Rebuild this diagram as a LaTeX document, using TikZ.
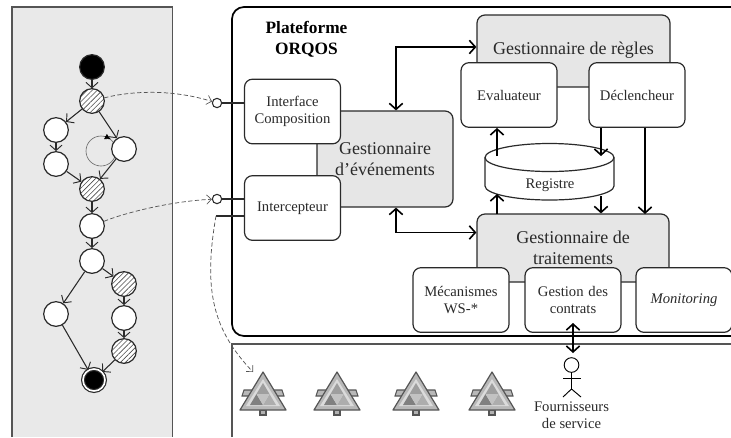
\documentclass[tikz,border=0pt]{standalone}
\usepackage{fontspec}
\setmainfont{Liberation Serif}
\usepackage{tikz}
\usetikzlibrary{arrows.meta}
\usetikzlibrary{patterns.meta}

\definecolor{panelgray}{HTML}{E9E9E9}
\definecolor{managergray}{HTML}{E6E6E6}
\definecolor{inkgray}{HTML}{2A2A2A}
\definecolor{wiregray}{HTML}{555555}

\tikzset{
    state/.style={circle,draw=inkgray,line width=.9pt,fill=white,minimum size=18.5pt,inner sep=0pt},
    hatched/.style={state,preaction={fill=white},pattern={Lines[angle=45,distance=2.7pt,line width=.45pt]},pattern color=black!70},
    flow/.style={draw=inkgray,line width=.8pt,-{Straight Barb[length=4pt,width=9pt,line width=.7pt]}},
    port/.style={circle,draw=inkgray,line width=.8pt,fill=white,minimum size=7pt,inner sep=0pt},
    weave/.style={draw=wiregray,line width=.55pt,dash pattern=on 3.2pt off 1.8pt,-{Straight Barb[length=3.5pt,width=7pt,line width=.5pt]}},
    component/.style={rectangle,rounded corners=6pt,draw=inkgray,line width=.9pt,fill=white,text=inkgray,
        font=\fontsize{11}{12.8}\selectfont,align=center,inner sep=0pt,text width=70pt},
    manager/.style={rectangle,rounded corners=6pt,draw=inkgray,line width=.9pt,fill=managergray,text=inkgray,
        font=\fontsize{13.5}{16}\selectfont,align=center,inner sep=0pt},
    link/.style={draw=black,line width=1.2pt,-{Straight Barb[length=4.5pt,width=10pt,line width=1.2pt]}},
    duplex/.style={draw=black,line width=1.2pt,{Straight Barb[length=4.5pt,width=10pt,line width=1.2pt]}-{Straight Barb[length=4.5pt,width=10pt,line width=1.2pt]}},
    service/.pic={
        \draw[wiregray,line width=.8pt,fill=black!30] (-3,17) rectangle (3,22);
        \draw[wiregray,line width=.8pt,fill=black!28] (-19,-3) -- (19,-3) -- (21,3) -- (-21,3) -- cycle;
        \draw[wiregray,line width=.9pt,line join=round,fill=black!28] (0,-21) -- (23,17) -- (-23,17) -- cycle;
        \fill[black!14] (0,-14) -- (17,13) -- (-17,13) -- cycle;
        \fill[black!38] (0,-10) -- (6.5,1) -- (-6.5,1) -- cycle;
        \fill[black!50] (-6.5,1) -- (0,12) -- (-13,12) -- cycle;
        \fill[black!32] (6.5,1) -- (13,12) -- (0,12) -- cycle;
        \fill[black!24] (-6.5,1) -- (6.5,1) -- (0,12) -- cycle;
    }
}

\begin{document}
\begin{tikzpicture}[x=.75pt,y=-.75pt]
        \useasboundingbox (0,0) rectangle (731,437);

        % composition panel
        \fill[panelgray] (12,7) rectangle (172.5,437);
        \draw[wiregray,line width=.9pt] (12,437) -- (12,7) -- (172.5,7) -- (172.5,437);

        \node (ring) [circle,draw=black!60,line width=.45pt,minimum size=22.5pt,inner sep=0pt] at (101,151) {};
        \draw[line width=.45pt,-{Latex[length=4.5pt,width=4.5pt]}] (ring.75) -- (ring.50);

        \begin{scope}[every node/.style={state}]
            \node (s0) [fill=black] at (92,67) {};
            \node (s1) [hatched] at (92,101) {};
            \node (s2) at (56,130) {};
            \node (s3) at (124,149) {};
            \node (s4) at (56,164) {};
            \node (s5) [hatched] at (92,189) {};
            \node (s6) at (92,226) {};
            \node (s7) at (92,261) {};
            \node (s8) [hatched] at (124,284) {};
            \node (s9) at (56,314) {};
            \node (s10) at (124,318) {};
            \node (s11) [hatched] at (124,351) {};
            \node (s12) [double=white,double distance=1.2pt,fill=black,minimum size=16.5pt] at (94,380) {};
        \end{scope}

        \begin{scope}[every path/.style={flow}]
            \path (s0) -- (s1);
            \path (s1) -- (s2);
            \path (s1) -- (s3);
            \path (s2) -- (s4);
            \path (s3) -- (s5);
            \path (s4) -- (s5);
            \path (s5) -- (s6);
            \path (s6) -- (s7);
            \path (s7) -- (s8);
            \path (s7) -- (s9);
            \path (s8) -- (s10);
            \path (s10) -- (s11);
            \path (s9) -- (s12);
            \path (s11) -- (s12);
        \end{scope}

        % platform and services frames
        \draw[black,line width=1.3pt,rounded corners=9pt] (732,7) -- (232,7) -- (232,336) -- (732,336);
        \draw[wiregray,line width=.9pt] (232,437) -- (232,344) -- (732,344);

        \node (title) [font=\fontsize{13}{15.8}\selectfont\bfseries,text=black,align=center] at (306.5,39.5) {Plateforme\\ORQOS};

        % managers sit under their components
        \node (events) [manager,minimum width=102pt,minimum height=72pt] at (385,159) {Gestionnaire\\d’événements};
        \node (rules) [manager,minimum width=144.75pt,minimum height=54pt] at (573.5,51) {};
        \node (rulestext) [font=\fontsize{13.5}{16}\selectfont,text=inkgray] at (573.5,50) {Gestionnaire de règles};
        \node (jobs) [manager,minimum width=144pt,minimum height=51pt] at (573,248) {Gestionnaire de\\traitements};

        \begin{scope}[every node/.style={component,minimum width=72pt,minimum height=48.5pt}]
            \node (compo) at (292.5,111.5) {Interface\\Composition};
            \node (inter) at (292.5,208) {Intercepteur};
            \node (eval) at (509,95) {Evaluateur};
            \node (trigger) at (637,95) {Déclencheur};
            \node (mech) at (461,300) {Mécanismes\\WS-*};
            \node (contracts) at (573,300) {Gestion des\\contrats};
            \node (monitor) at (684,300) {\textit{Monitoring}};
        \end{scope}

        % registry drum
        \draw[inkgray,line width=.9pt,fill=white] (485,157.5) -- (485,186) arc[start angle=180,end angle=360,x radius=48.375pt,y radius=10.5pt] -- (614,157.5);
        \draw[inkgray,line width=.9pt,fill=white] (549.5,157.5) ellipse [x radius=48.375pt,y radius=10.5pt];
        \node (registry) [font=\fontsize{11}{12.8}\selectfont,text=inkgray] at (550,185) {Registre};

        % ports
        \node (portA) [port] at (217,103) {};
        \node (portB) [port] at (217,199) {};
        \coordinate (tapB) at (216,216);
        \draw[inkgray,line width=.8pt] (portA) -- (portA -| compo.west);
        \draw[inkgray,line width=.8pt] (portB) -- (portB -| inter.west);
        \draw[inkgray,line width=.8pt] (tapB) -- (tapB -| inter.west);

        % services
        \pic (svcA) at (263,393) {service};
        \pic (svcB) at (337,393) {service};
        \pic (svcC) at (416,393) {service};
        \pic (svcD) at (492,393) {service};
        \coordinate (svcTip) at (253,372);

        \draw[weave] (s1) .. controls (135,90) and (175,90) .. (portA);
        \draw[weave] (s6) .. controls (130,211) and (175,201) .. (portB);
        \draw[weave] (tapB) .. controls (203,290) and (213,330) .. (svcTip);

        % platform links
        \coordinate (bend1) at (396,47);
        \coordinate (bend2) at (396,232.5);
        \coordinate (evalFoot) at (497,156);
        \coordinate (regFoot) at (497,194);
        \coordinate (jobsTop) at (497,214);
        \coordinate (regTop) at (601,156);
        \coordinate (regBottom) at (601,196);
        \coordinate (jobsDrop) at (645,214);
        \coordinate (stickTop) at (573,323);
        \coordinate (stickEnd) at (573,353);

        \draw[duplex] (bend1 |- events.north) -- (bend1) -- (bend1 -| rules.west);
        \draw[duplex] (bend2 |- events.south) -- (bend2) -- (bend2 -| jobs.west);
        \draw[link] (evalFoot) -- (evalFoot |- eval.south);
        \draw[link] (jobsTop) -- (regFoot);
        \draw[link] (regTop |- trigger.south) -- (regTop);
        \draw[link] (regBottom) -- (regBottom |- jobs.north);
        \draw[link] (jobsDrop |- trigger.south) -- (jobsDrop);
        \draw[duplex] (stickTop) -- (stickEnd);

        % provider
        \node (head) [circle,draw=black,line width=.7pt,minimum size=11pt,inner sep=0pt] at (571.5,365) {};
        \coordinate (hip) at (571.5,389);
        \coordinate (armL) at (563,378);
        \coordinate (armR) at (581,378);
        \coordinate (legL) at (563,397);
        \coordinate (legR) at (581,397);
        \draw[black,line width=.7pt] (head) -- (hip);
        \draw[black,line width=.7pt] (armL) -- (armR);
        \draw[black,line width=.7pt] (legL) -- (hip) -- (legR);
        \node (providers) [font=\fontsize{11}{12.8}\selectfont,text=inkgray,align=center] at (571.5,415.5) {Fournisseurs\\de service};
    \end{tikzpicture}
\end{document}
